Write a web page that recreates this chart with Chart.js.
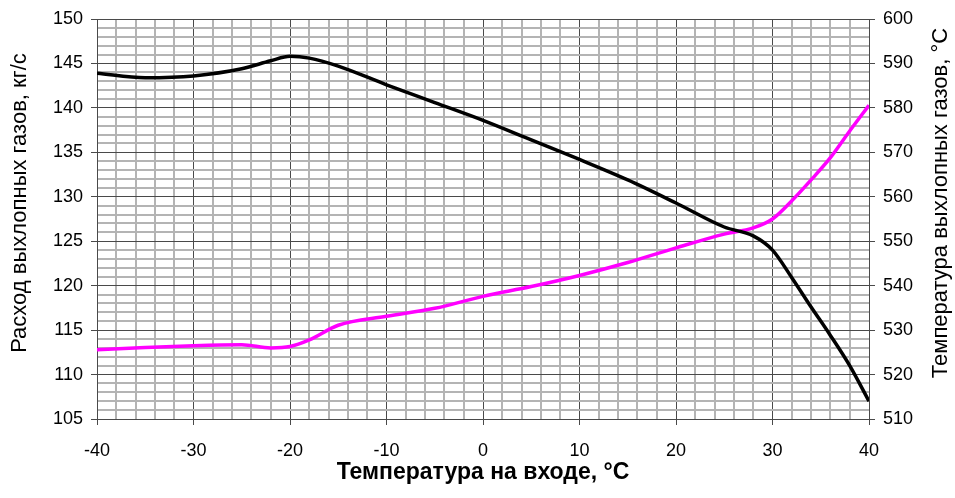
<!DOCTYPE html>
<html>
<head>
<meta charset="utf-8">
<script src="https://cdn.jsdelivr.net/npm/chart.js@4.4.1/dist/chart.umd.min.js"></script>
<style>
  html, body { margin: 0; padding: 0; background: #fff; }
  #wrap { width: 955px; height: 498px; position: relative; }
</style>
</head>
<body>
<div id="wrap"><canvas id="chart"></canvas></div>
<script>
  'use strict';

  // температура на входе, °C
  const inletTemp = [-40, -35, -30, -25, -22, -20, -18, -15, -10, -5, 0, 5, 10, 15, 20, 25, 28, 30, 32, 34, 36, 38, 40];
  // расход выхлопных газов, кг/с (левая ось)
  const exhaustFlow = [143.9, 143.4, 143.6, 144.4, 145.3, 145.8, 145.6, 144.7, 142.6, 140.6, 138.6, 136.4, 134.2, 131.9, 129.3, 126.6, 125.6, 124.0, 120.9, 117.6, 114.4, 111.0, 107.0];
  // температура выхлопных газов, °C (правая ось)
  const exhaustTemp = [525.6, 526.1, 526.5, 526.7, 526.0, 526.3, 527.8, 531.1, 533.1, 534.9, 537.6, 539.8, 542.3, 545.2, 548.5, 551.6, 553.0, 555.0, 559.1, 563.8, 568.8, 574.8, 580.6];

  const xTitle = 'Температура на входе, °C';
  const yLeftTitle = 'Расход выхлопных газов, кг/с';
  const yRightTitle = 'Температура выхлопных газов, °C';

  const FONT = 'Arial, "Liberation Sans", sans-serif';
  const MAJOR = '#4a4a4a';
  const MINOR = '#b4b4b4';

  function pts(ys) { return inletTemp.map((x, i) => ({ x: x, y: ys[i] })); }

  // оба вертикальных заголовка читаются снизу вверх и сдвинуты чуть выше центра
  const sideTitlesPlugin = {
    id: 'sideTitles',
    afterDraw(chart) {
      const { ctx, chartArea } = chart;
      const cy = (chartArea.top + chartArea.bottom) / 2 - 16;
      ctx.save();
      ctx.font = '22px ' + FONT;
      ctx.fillStyle = '#000';
      ctx.textAlign = 'center';
      ctx.textBaseline = 'middle';
      [[20, yLeftTitle], [941, yRightTitle]].forEach(([x, text]) => {
        ctx.save();
        ctx.translate(x, cy);
        ctx.rotate(-Math.PI / 2);
        ctx.fillText(text, 0, 0);
        ctx.restore();
      });
      ctx.restore();
    }
  };

  new Chart(document.getElementById('chart'), {
    type: 'line',
    data: {
      datasets: [
        { label: 'flow', data: pts(exhaustFlow), yAxisID: 'y', borderColor: '#000000', borderWidth: 3.5, pointRadius: 0, cubicInterpolationMode: 'monotone' },
        { label: 'temp', data: pts(exhaustTemp), yAxisID: 'y2', borderColor: '#ff00ff', borderWidth: 3.5, pointRadius: 0, cubicInterpolationMode: 'monotone' }
      ]
    },
    options: {
      responsive: true,
      maintainAspectRatio: false,
      animation: false,
      layout: { padding: { top: 19, left: 0, right: 0, bottom: 0 } },
      plugins: { legend: { display: false }, tooltip: { enabled: false } },
      scales: {
        x: {
          type: 'linear', min: -40, max: 40,
          afterFit: (s) => { s.height = 79; },
          ticks: {
            stepSize: 2, autoSkip: false, maxRotation: 0, padding: 15,
            color: '#000', font: { family: FONT, size: 18 },
            callback: (v) => (v % 10 === 0 ? String(v) : '')
          },
          grid: {
            color: (c) => (c.tick.value % 10 === 0 ? MAJOR : MINOR),
            lineWidth: (c) => (c.tick.value % 10 === 0 ? 1 : 2),
            tickColor: (c) => (c.tick.value % 10 === 0 ? MAJOR : 'rgba(0,0,0,0)'),
            tickLength: 6
          },
          border: { color: MAJOR, width: 1 },
          title: { display: true, text: xTitle, color: '#000', font: { family: FONT, size: 23, weight: 'bold' }, padding: { top: 0, bottom: 12 } }
        },
        y: {
          position: 'left', min: 105, max: 150,
          afterFit: (s) => { s.width = 97; },
          ticks: {
            stepSize: 1, autoSkip: false, padding: 8,
            color: '#000', font: { family: FONT, size: 18 },
            callback: (v) => (v % 5 === 0 ? String(v) : '')
          },
          grid: {
            color: (c) => (c.tick.value % 5 === 0 ? MAJOR : MINOR),
            lineWidth: (c) => (c.tick.value % 5 === 0 ? 1 : 2),
            tickColor: (c) => (c.tick.value % 5 === 0 ? MAJOR : 'rgba(0,0,0,0)'),
            tickLength: 6
          },
          border: { color: MAJOR, width: 1 }
        },
        y2: {
          position: 'right', min: 510, max: 600,
          afterFit: (s) => { s.width = 86; },
          ticks: {
            stepSize: 10, padding: 8,
            color: '#000', font: { family: FONT, size: 18 }
          },
          grid: { drawOnChartArea: false, color: MAJOR, tickLength: 6 },
          border: { color: MAJOR, width: 1 }
        }
      }
    },
    plugins: [sideTitlesPlugin]
  });
</script>
</body>
</html>
